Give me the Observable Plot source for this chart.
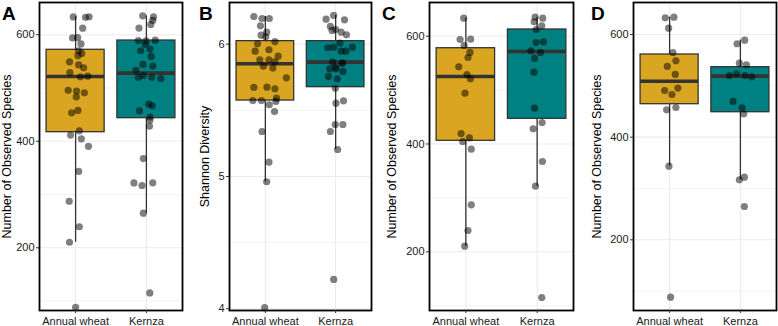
<!DOCTYPE html>
<html>
<head>
<meta charset="utf-8">
<script src="https://cdn.jsdelivr.net/npm/d3@7"></script>
<script src="https://cdn.jsdelivr.net/npm/@observablehq/plot@0.6"></script>
<style>
  body { margin: 0; background: #fff; }
  #fig { position: relative; width: 778px; height: 326px; overflow: hidden; background: #fff;
         font-family: "Liberation Sans", Arial, Helvetica, sans-serif; }
  #fig svg { position: absolute; top: 0; }
  #fig .tag { position: absolute; top: 4px; font-size: 19px; font-weight: bold; line-height: 19px; color: #000; }
</style>
</head>
<body>
<div id="fig"></div>
<script>
const groups = ["Annual wheat", "Kernza"];
const boxColors = ["#DAA520", "#008080"];

// Observed species per sample, site C
const cWheat = [633.4, 593.9, 594.4, 582.7, 569.8, 560.5, 543.2, 528.9, 521.0, 494.3, 419.5, 411.5, 404.6, 390.4, 287.2, 239.5, 210.4];
const cKernza = [635.3, 633.4, 626.7, 619.3, 612.4, 588.3, 589.6, 572.9, 569.8, 559.2, 533.2, 466.4, 428.2, 439.9, 367.5, 321.7, 115.2];
// Observed species per sample, site D
const dWheat = [632.5, 633.7, 612.3, 564.9, 548.8, 537.7, 522.1, 495.6, 490.9, 483.1, 453.3, 457.8, 343.4, 88.2];
const dKernza = [581.9, 589.0, 544.1, 541.0, 520.1, 523.4, 520.1, 517.6, 469.5, 457.2, 445.5, 316.9, 322.0, 264.9];
// Shannon diversity per sample, both sites
const shannonWheat = [6.209, 6.194, 6.194, 6.139, 6.091, 6.068, 6.056, 6.020, 6.003, 5.947, 5.958, 5.909, 5.882, 5.882, 5.867, 5.834,
  5.819, 5.746, 5.673, 5.675, 5.663, 5.574, 5.574, 5.592, 5.567, 5.542, 5.491, 5.340, 5.108, 4.960, 4.008];
const shannonKernza = [6.217, 6.189, 6.184, 6.134, 6.104, 6.091, 6.071, 6.008, 5.973, 5.977, 5.977, 5.947, 5.947, 5.864, 5.856, 5.814,
  5.814, 5.794, 5.756, 5.738, 5.667, 5.572, 5.554, 5.393, 5.393, 5.340, 5.204, 4.222, 5.824, 5.859, 6.111];

// Horizontal jitter of each sample (category units)
const jitterCWheat = [-0.03, -0.081, 0.067, -0.025, 0.058, 0.03, -0.1, 0.016, 0.063, -0.012, -0.067, 0.049, -0.044, 0.076, 0.076, 0.03, -0.016];
const jitterCKernza = [-0.028, 0.079, -0.042, 0.065, -0.014, -0.014, 0.088, -0.088, 0.046, -0.037, -0.046, -0.037, -0.056, 0.069, 0.074, -0.023, 0.065];
const jitterDWheat = [-0.061, 0.061, -0.014, 0.047, 0.089, -0.033, 0.08, 0.117, -0.07, 0.033, -0.042, 0.089, -0.009, 0.014];
const jitterDKernza = [-0.047, 0.061, -0.014, 0.085, -0.155, -0.052, 0.066, 0.16, -0.103, 0.023, 0.047, -0.014, 0.056, 0.056];
const jitterAWheat = [-0.033, -0.043, 0.029, 0.076, 0.043, 0.033, 0.043, -0.081, 0.067, 0.014, 0.052, -0.071, 0.081, 0.181, -0.09, 0.052, -0.086,
  0.14, 0.19, 0.1, 0.086, -0.086, 0.114, 0.171, -0.105, 0.124, 0.01, -0.057, 0.033, 0.043, 0];
const jitterAKernza = [-0.052, 0.1, 0.09, 0.062, -0.105, -0.005, 0.124, 0.052, -0.081, 0.067, -0.148, 0.081, 0.043, 0.052, -0.043, -0.176, 0.048,
  -0.019, -0.114, -0.048, 0.09, -0.114, -0.043, 0.076, 0.205, 0.033, -0.1, 0.052, -0.062, 0.09, -0.043];
const jitterBWheat = [-0.164, -0.047, 0.056, -0.07, 0.019, -0.061, 0.005, 0.136, -0.112, -0.145, 0.051, 0.182, -0.079, 0.051, 0.136, -0.028,
  0.107, 0.299, -0.164, 0.023, 0.136, -0.178, -0.056, 0.159, 0.15, 0.056, 0.131, -0.047, 0.051, 0.019, -0.009];
const jitterBKernza = [-0.028, -0.136, 0.126, -0.075, -0.051, 0.079, 0.154, 0.061, -0.112, -0.028, 0.238, 0.079, 0.145, -0.042, 0.089, -0.084,
  0.005, 0.103, -0.103, 0.023, -0.005, 0.112, 0.005, -0.005, 0.103, -0.075, 0.028, -0.028, 0.0, 0.1, 0.0];

// Box summaries per group: [lower whisker, Q1, median, Q3, upper whisker]
const boxA = [[210.4, 417.0, 521.5, 571.6, 633.7], [264.9, 443.3, 527.8, 589.0, 635.3]];
const boxB = [[4.960, 5.574, 5.852, 6.023, 6.209], [5.204, 5.675, 5.864, 6.023, 6.217]];
const boxC = [[210.4, 405.9, 525.2, 577.7, 633.4], [321.7, 446.7, 571.6, 612.4, 635.3]];
const boxD = [[343.4, 464.2, 509.0, 561.0, 633.7], [316.9, 448.6, 518.8, 536.3, 589.0]];

// Axis ticks
const speciesTicks = [200, 400, 600];
const speciesMinor = [100, 300, 500];
const shannonTicks = [4, 5, 6];
const shannonMinor = [4.5, 5.5];

const fig = document.getElementById("fig");
const font = '"Liberation Sans", Arial, Helvetica, sans-serif';
const halfBox = 0.41;

function panel({tag, tagLeft, left, width, marginLeft, marginRight, domain, ticks, minor, title, titleOffset, values, jitter, box}) {
  const pts = [];
  values.forEach((vals, g) => vals.forEach((v, i) => pts.push({x: g + 1 + jitter[g][i], y: v})));
  const boxes = box.map(([lo, q1, med, q3, hi], g) => ({x: g + 1, group: groups[g], lo, q1, med, q3, hi}));
  const svg = Plot.plot({
    width, height: 326,
    marginTop: 2, marginBottom: 16, marginLeft, marginRight,
    style: {fontFamily: font, background: "transparent", color: "#000"},
    x: {domain: [0.49, 2.51]},
    y: {domain},
    color: {domain: groups, range: boxColors},
    marks: [
      Plot.gridY(minor, {stroke: "#ebebeb", strokeOpacity: 1, strokeWidth: 0.6}),
      Plot.gridY(ticks, {stroke: "#ebebeb", strokeOpacity: 1, strokeWidth: 1.1}),
      Plot.gridX([1, 2], {stroke: "#ebebeb", strokeOpacity: 1, strokeWidth: 1.1}),
      Plot.ruleX(boxes, {x: "x", y1: "lo", y2: "hi", stroke: "#333", strokeWidth: 1.3}),
      Plot.rect(boxes, {x1: d => d.x - halfBox, x2: d => d.x + halfBox, y1: "q1", y2: "q3", fill: "group", stroke: "#333", strokeWidth: 1.3}),
      Plot.ruleY(boxes, {y: "med", x1: d => d.x - halfBox, x2: d => d.x + halfBox, stroke: "#333", strokeWidth: 3.6}),
      Plot.dot(pts, {x: "x", y: "y", r: 3.6, fill: "black", fillOpacity: 0.5, stroke: null}),
      Plot.frame({stroke: "black", strokeWidth: 1.8}),
      Plot.axisY(ticks, {tickSize: 3, tickPadding: 2, fontSize: 11, stroke: "#333", fill: "#1a1a1a", label: null,
        tickFormat: d => String(d)}),
      Plot.axisX([1, 2], {tickSize: 3, tickPadding: 4, fontSize: 11, stroke: "#333", fill: "#1a1a1a", label: null,
        tickFormat: i => groups[i - 1]}),
      Plot.text([title], {text: d => d, frameAnchor: "left", rotate: -90, dx: -titleOffset, lineAnchor: "top",
        textAnchor: "middle", fontSize: 12.5, fill: "#000"})
    ]
  });
  svg.style.left = left + "px";
  fig.appendChild(svg);
  const t = document.createElement("div");
  t.className = "tag";
  t.textContent = tag;
  t.style.left = tagLeft + "px";
  fig.appendChild(t);
}

panel({tag: "A", tagLeft: 2, left: 0, width: 185, marginLeft: 39, marginRight: 3,
  domain: [82.3, 660.4], ticks: speciesTicks, minor: speciesMinor,
  title: "Number of Observed Species", titleOffset: 37,
  values: [cWheat.concat(dWheat), cKernza.concat(dKernza)], jitter: [jitterAWheat, jitterAKernza], box: boxA});

panel({tag: "B", tagLeft: 199, left: 196, width: 178, marginLeft: 33, marginRight: 3,
  domain: [3.987, 6.315], ticks: shannonTicks, minor: shannonMinor,
  title: "Shannon Diversity", titleOffset: 29,
  values: [shannonWheat, shannonKernza], jitter: [jitterBWheat, jitterBKernza], box: boxB});

panel({tag: "C", tagLeft: 382, left: 382, width: 194, marginLeft: 47, marginRight: 3,
  domain: [91.1, 662.5], ticks: speciesTicks, minor: speciesMinor,
  title: "Number of Observed Species", titleOffset: 42,
  values: [cWheat, cKernza], jitter: [jitterCWheat, jitterCKernza], box: boxC});

panel({tag: "D", tagLeft: 591, left: 588, width: 190, marginLeft: 45, marginRight: 2,
  domain: [62.3, 662.3], ticks: speciesTicks, minor: speciesMinor,
  title: "Number of Observed Species", titleOffset: 41,
  values: [dWheat, dKernza], jitter: [jitterDWheat, jitterDKernza], box: boxD});
</script>
</body>
</html>
